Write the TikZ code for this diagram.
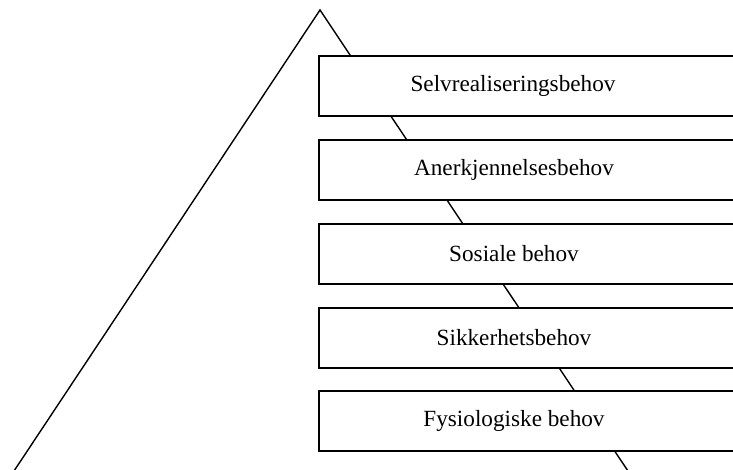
\documentclass[tikz,border=0pt]{standalone}
\usepackage{fontspec}
\setmainfont{Liberation Serif}
\begin{document}
\begin{tikzpicture}[x=1pt,y=-1pt,
  levelbox/.style={draw=black,line width=1.8pt,fill=white,rectangle,anchor=north west,minimum width=460pt,minimum height=60pt,inner sep=0pt},
  levellabel/.style={font=\fontsize{23.2}{26}\selectfont,inner sep=0pt,anchor=center}]
\useasboundingbox (0,0) rectangle (733,470);
\fill[white] (0,0) rectangle (733,470);
\begin{scope}
\clip (0,0) rectangle (733,470);
\coordinate (apex) at (320,10);
\coordinate (bl) at (12,474);
\coordinate (br) at (630,474);
\draw[line width=1.4pt,line join=miter] (bl) -- (apex) -- (br);
\node[levelbox] (b1) at (318,55) {};
\node[levelbox] (b2) at (318,139) {};
\node[levelbox] (b3) at (318,223) {};
\node[levelbox] (b4) at (318,307) {};
\node[levelbox] (b5) at (318,390) {};
\end{scope}
\node[levellabel] (t1) at (513,86) {Selvrealiseringsbehov};
\node[levellabel] (t2) at (514,170) {Anerkjennelsesbehov};
\node[levellabel] (t3) at (514,254) {Sosiale behov};
\node[levellabel] (t4) at (514,338) {Sikkerhetsbehov};
\node[levellabel] (t5) at (514,421) {Fysiologiske behov};
\end{tikzpicture}
\end{document}
